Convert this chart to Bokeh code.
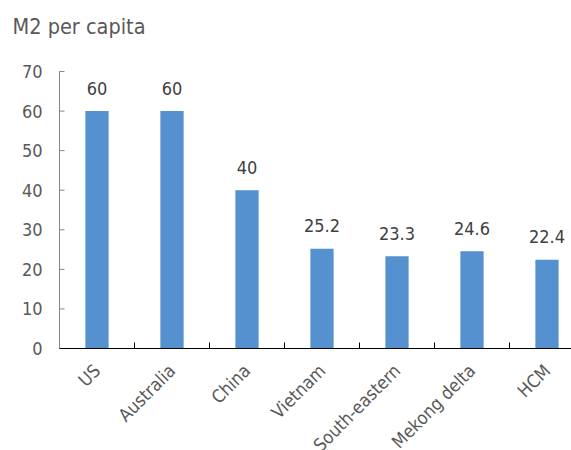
import math
from bokeh.plotting import figure
from bokeh.models import Range1d
from bokeh.core.properties import value
from bokeh.embed import file_html
from bokeh.resources import INLINE

categories = ["US", "Australia", "China", "Vietnam", "South-eastern", "Mekong delta", "HCM"]
values = [60, 60, 40, 25.2, 23.3, 24.6, 22.4]
value_labels = ["60", "60", "40", "25.2", "23.3", "24.6", "22.4"]
y_ticks = [0, 10, 20, 30, 40, 50, 60, 70]
y_tick_labels = ["0", "10", "20", "30", "40", "50", "60", "70"]
title_text = "M2 per capita"

FONT = "DejaVu Sans Condensed"
TXT = "#595959"
W, H = 571, 450

n = len(categories)
centers = [i + 0.5 for i in range(n)]
boundaries = [i for i in range(1, n)]
y_max = y_ticks[-1]

# plot area geometry in pixels: value axis at x=59, zero line at y=348, top (70) at y=71
left_px, zero_px, top_px = 59.0, 348.0, 71.0
px_per_cat = 75.0
px_per_unit = (zero_px - top_px) / y_max

x_range = Range1d(-left_px / px_per_cat, (W - left_px) / px_per_cat)
y_range = Range1d(-(H - zero_px) / px_per_unit, zero_px / px_per_unit)

p = figure(width=W, height=H, output_backend="svg", toolbar_location=None,
           x_range=x_range, y_range=y_range,
           x_axis_location=None, y_axis_location=None,
           min_border=0)
p.outline_line_color = None
p.xgrid.visible = False
p.ygrid.visible = False
p.background_fill_color = "white"
p.border_fill_color = "white"

# bars and value labels
p.vbar(x=centers, top=values, width=0.31, fill_color="#5591cf", line_color=None)
p.text(x=centers, y=values, text=value_labels, text_align="center", text_baseline="alphabetic",
       y_offset=-23, text_font=value(FONT), text_font_size="18px", text_color="#404040")

# value axis
p.segment(x0=[0], y0=[0], x1=[0], y1=[y_max], line_color="#868686", line_width=1)
tick_w = 5.0 / px_per_cat
p.segment(x0=[0] * len(y_ticks), y0=y_ticks, x1=[tick_w] * len(y_ticks), y1=y_ticks,
          line_color="#868686", line_width=1)
p.text(x=[0] * len(y_ticks), y=y_ticks, text=y_tick_labels, text_align="right",
       text_baseline="middle", x_offset=-17,
       text_font=value(FONT), text_font_size="18px", text_color=TXT)

# category axis
p.segment(x0=[0], y0=[0], x1=[x_range.end], y1=[0], line_color="black", line_width=1.2)
tick_h = 6.0 / px_per_unit
p.segment(x0=boundaries, y0=[0] * len(boundaries), x1=boundaries, y1=[tick_h] * len(boundaries),
          line_color="black", line_width=1)
p.text(x=centers, y=[0] * n, text=categories, angle=math.pi / 4,
       text_align="right", text_baseline="middle", y_offset=19,
       text_font=value(FONT), text_font_size="18px", text_color=TXT)

# title
p.text(x=[0], y=[y_max], text=[title_text], text_align="left", text_baseline="middle",
       x_offset=-47, y_offset=-45,
       text_font=value(FONT), text_font_size="21.5px", text_color=TXT)

open("out.html", "w").write(file_html(p, INLINE))
